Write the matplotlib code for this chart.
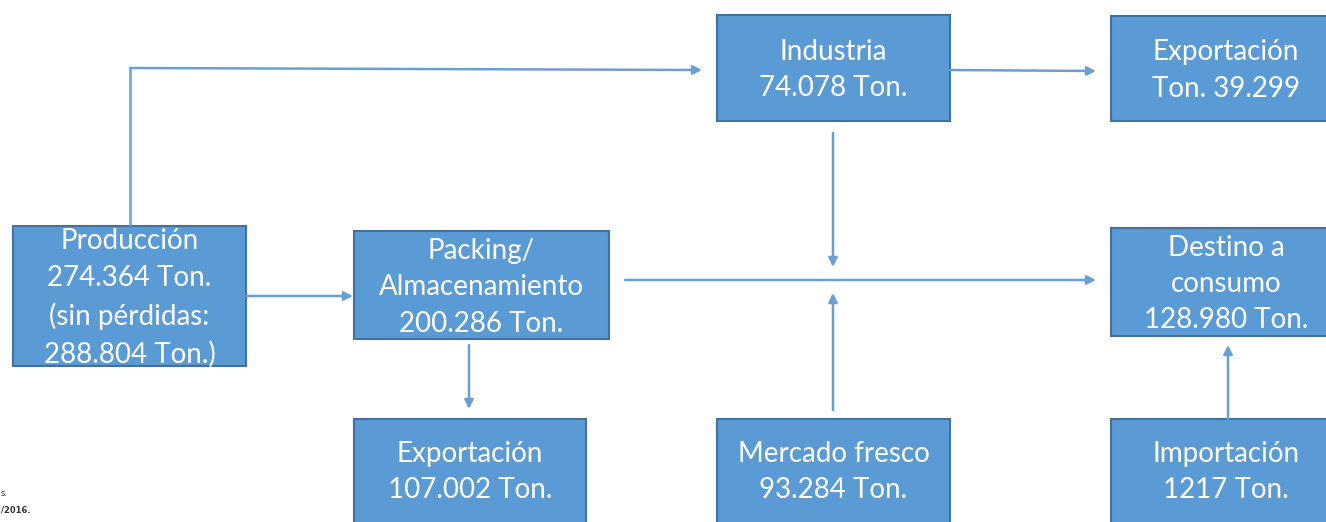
import matplotlib.pyplot as plt
from matplotlib.patches import Rectangle

# Box texts (name line(s) + value line)
labels = [
    "Producción\n274.364 Ton.\n(sin pérdidas:\n288.804 Ton.)",
    "Packing/\nAlmacenamiento\n200.286 Ton.",
    "Industria\n74.078 Ton.",
    "Exportación\nTon. 39.299",
    "Destino a\nconsumo\n128.980 Ton.",
    "Exportación\n107.002 Ton.",
    "Mercado fresco\n93.284 Ton.",
    "Importación\n1217 Ton.",
]

# box positions in pixel space (x0, y0, x1, y1)
boxes = [
    (13, 226, 246, 366),
    (354, 231, 609, 339),
    (717, 15, 950, 121),
    (1111, 16, 1341, 121),
    (1111, 228, 1341, 336),
    (354, 419, 586, 535),
    (717, 419, 950, 535),
    (1111, 419, 1341, 535),
]

# arrows: list of polyline points, the last segment has the head
arrows = [
    [(130, 226), (130, 68), (702, 70)],
    [(246, 296), (353, 296)],
    [(950, 70), (1096, 71)],
    [(833, 133), (833, 267)],
    [(625, 280), (1096, 280)],
    [(833, 410), (833, 293)],
    [(469, 345), (469, 409)],
    [(1228, 419), (1228, 345)],
]

box_face = "#5B9BD5"
box_edge = "#41719C"
line_col = "#6A9FD3"

fig = plt.figure(figsize=(13.26, 5.22), dpi=100)
ax = fig.add_axes([0, 0, 1, 1])
ax.set_xlim(0, 1326)
ax.set_ylim(522, 0)
ax.axis("off")

for (x0, y0, x1, y1), txt in zip(boxes, labels):
    ax.add_patch(Rectangle((x0, y0), x1 - x0, y1 - y0, facecolor=box_face,
                           edgecolor=box_edge, linewidth=1.5))
    cx = (x0 + x1) / 2
    cy = (y0 + y1) / 2 + 2
    if y1 > 522:
        cy = y0 + 53
    ax.text(cx, cy, txt, ha="center", va="center", color="white",
            fontsize=20, family="Lato", linespacing=1.5)

for pts in arrows:
    for a, b in zip(pts[:-2], pts[1:-1]):
        ax.plot([a[0], b[0]], [a[1], b[1]], color=line_col, lw=1.8,
                solid_capstyle="butt")
    ax.annotate("", xy=pts[-1], xytext=pts[-2],
                arrowprops=dict(arrowstyle="-|>", color=line_col, lw=1.8,
                                mutation_scale=13, shrinkA=0, shrinkB=0))

# cropped source note in the corner
ax.text(1, 493, "s.", fontsize=6, color="#333333", va="center")
ax.text(1, 510, "/2016.", fontsize=6, color="#333333", va="center",
        fontweight="bold")

fig.savefig("out.png", dpi=100)
